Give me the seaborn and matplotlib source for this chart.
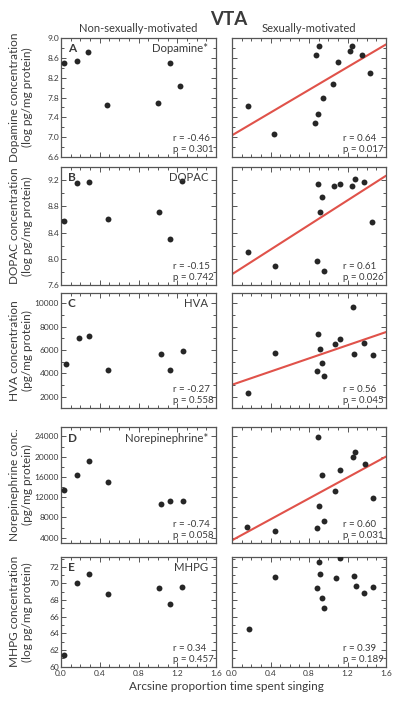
import numpy as np
import matplotlib.pyplot as plt
import matplotlib.ticker as mticker
import seaborn as sns

sns.set_theme(style="ticks")
plt.rcParams["font.family"] = ["Lato", "DejaVu Sans"]

TXT = "#3a3a3a"
EDGE = "#555555"
DOT = "#262626"
FIT = "#e0524a"

# ── data: x = arcsine proportion time spent singing ──────────────────────────
# non-sexually-motivated (left column)
da_non_x = [0.03, 0.16, 0.28, 0.47, 1.00, 1.12, 1.23]
da_non_y = [8.49, 8.53, 8.72, 7.65, 7.69, 8.49, 8.03]
dopac_non_x = [0.03, 0.17, 0.29, 0.48, 1.01, 1.12, 1.25]
dopac_non_y = [8.58, 9.15, 9.17, 8.60, 8.72, 8.30, 9.18]
hva_non_x = [0.05, 0.19, 0.29, 0.48, 1.03, 1.13, 1.26]
hva_non_y = [4820, 7030, 7180, 4300, 5630, 4300, 5880]
ne_non_x = [0.03, 0.17, 0.29, 0.48, 1.03, 1.13, 1.26]
ne_non_y = [13380, 16380, 19170, 15010, 10710, 11290, 11290]
mhpg_non_x = [0.03, 0.17, 0.29, 0.48, 1.01, 1.12, 1.25]
mhpg_non_y = [61.4, 70.1, 71.1, 68.7, 69.5, 67.5, 69.6]

# sexually-motivated (right column)
da_sex_x = [0.17, 0.44, 0.86, 0.89, 0.87, 0.90, 0.95, 1.05, 1.10, 1.23, 1.25, 1.35, 1.43]
da_sex_y = [7.62, 7.07, 7.29, 7.46, 8.65, 8.83, 7.79, 8.07, 8.51, 8.73, 8.83, 8.65, 8.30]
dopac_sex_x = [0.17, 0.45, 0.88, 0.96, 0.91, 0.93, 0.89, 1.06, 1.12, 1.25, 1.28, 1.37, 1.45]
dopac_sex_y = [8.10, 7.89, 7.97, 7.82, 8.71, 8.94, 9.14, 9.11, 9.14, 9.11, 9.21, 9.17, 8.56]
hva_sex_x = [0.17, 0.45, 0.89, 0.91, 0.93, 0.88, 0.96, 1.07, 1.12, 1.26, 1.37, 1.27, 1.47]
hva_sex_y = [2350, 5740, 7330, 6120, 4850, 4180, 3790, 6510, 6920, 9680, 6570, 5690, 5540]
ne_sex_x = [0.16, 0.45, 0.88, 0.96, 0.90, 1.07, 0.93, 1.12, 0.89, 1.26, 1.28, 1.38, 1.46]
ne_sex_y = [6150, 5290, 5960, 7250, 10320, 13310, 16320, 17410, 23860, 19950, 20870, 18470, 11880]
mhpg_sex_x = [0.18, 0.45, 0.90, 0.91, 0.88, 0.93, 0.96, 1.08, 1.12, 1.27, 1.29, 1.37, 1.46]
mhpg_sex_y = [64.5, 70.8, 72.6, 71.2, 69.4, 68.3, 67.1, 70.6, 73.1, 70.9, 69.7, 68.9, 69.6]

letters = ["A", "B", "C", "D", "E"]
compounds = ["Dopamine*", "DOPAC", "HVA", "Norepinephrine*", "MHPG"]
ylabels = ["Dopamine concentration\n(log pg/mg protein)",
           "DOPAC concentration\n(log pg/mg protein)",
           "HVA concentration\n(pg/mg protein)",
           "Norepinephrine conc.\n(pg/mg protein)",
           "MHPG concentration\n(log pg/mg protein)"]
r_non = ["-0.46", "-0.15", "-0.27", "-0.74", "0.34"]
p_non = ["0.301", "0.742", "0.558", "0.058", "0.457"]
r_sex = ["0.64", "0.61", "0.56", "0.60", "0.39"]
p_sex = ["0.017", "0.026", "0.045", "0.031", "0.189"]
fit_sex = [True, True, True, True, False]

non_data = [(da_non_x, da_non_y), (dopac_non_x, dopac_non_y), (hva_non_x, hva_non_y),
            (ne_non_x, ne_non_y), (mhpg_non_x, mhpg_non_y)]
sex_data = [(da_sex_x, da_sex_y), (dopac_sex_x, dopac_sex_y), (hva_sex_x, hva_sex_y),
            (ne_sex_x, ne_sex_y), (mhpg_sex_x, mhpg_sex_y)]

ylims = [(6.6, 9.0), (7.6, 9.4), (1000, 10900), (3000, 25800), (60, 73.2)]
ymajor = [0.4, 0.4, 2000, 4000, 2]
yminor = [0.2, 0.2, 1000, 2000, 1]
yfmt = ["%.1f", "%.1f", "%d", "%d", "%d"]
yticks_lo = [6.6, 7.6, 2000, 4000, 60]

# panel rows: (bottom, height) in figure fraction
rows = [(0.777, 0.169), (0.595, 0.168), (0.420, 0.164), (0.229, 0.164), (0.053, 0.156)]

fig = plt.figure(figsize=(4.0, 7.04), dpi=100)


def style_axis(ax, i, show_ylab, show_xlab):
    ax.set_xlim(0, 1.6)
    ax.set_ylim(*ylims[i])
    ax.xaxis.set_major_locator(mticker.MultipleLocator(0.4))
    ax.xaxis.set_minor_locator(mticker.MultipleLocator(0.1))
    ax.xaxis.set_major_formatter(mticker.FormatStrFormatter("%.1f"))
    ticks = np.arange(yticks_lo[i], ylims[i][1] + 1e-9, ymajor[i])
    ax.set_yticks(ticks)
    ax.yaxis.set_minor_locator(mticker.MultipleLocator(yminor[i]))
    ax.yaxis.set_major_formatter(mticker.FormatStrFormatter(yfmt[i]))
    ax.set_ylim(*ylims[i])
    ax.tick_params(which="both", direction="in", top=True, right=True,
                   color=EDGE, width=0.7, labelsize=6, labelcolor=TXT, pad=1.5)
    ax.tick_params(which="major", length=3.5)
    ax.tick_params(which="minor", length=2)
    ax.tick_params(axis="y", labelleft=show_ylab)
    ax.tick_params(axis="x", labelbottom=show_xlab, pad=2.5)
    for s in ax.spines.values():
        s.set_color(EDGE)
        s.set_linewidth(0.9)
    ax.set_xlabel("")
    ax.set_ylabel("")


for i in range(5):
    bottom, height = rows[i]
    ax_l = fig.add_axes([0.1525, bottom, 0.3875, height])
    ax_r = fig.add_axes([0.58, bottom, 0.385, height])

    # left column: non-sexually-motivated
    x, y = non_data[i]
    ax_l.set_xlim(0, 1.6)
    sns.scatterplot(x=x, y=y, ax=ax_l, color=DOT, s=18, linewidth=0, zorder=3)
    style_axis(ax_l, i, True, i == 4)
    ax_l.set_ylabel(ylabels[i], fontsize=8.5, color=TXT, linespacing=1.2)
    ax_l.yaxis.set_label_coords(-0.18, 0.5)
    ax_l.text(0.045, 0.955, letters[i], transform=ax_l.transAxes, ha="left", va="top",
              fontsize=8.5, fontweight="bold", color=TXT)
    ax_l.text(0.95, 0.955, compounds[i], transform=ax_l.transAxes, ha="right", va="top",
              fontsize=8.2, color=TXT)
    ax_l.text(0.985, 0.025, f"r = {r_non[i]}\np = {p_non[i]}", transform=ax_l.transAxes,
              ha="right", va="bottom", multialignment="left", fontsize=7, color=TXT,
              linespacing=1.3)

    # right column: sexually-motivated
    x, y = sex_data[i]
    ax_r.set_xlim(0, 1.6)
    sns.scatterplot(x=x, y=y, ax=ax_r, color=DOT, s=18, linewidth=0, zorder=3)
    if fit_sex[i]:
        sns.regplot(x=x, y=y, ax=ax_r, scatter=False, ci=None, truncate=False,
                    line_kws=dict(color=FIT, linewidth=1.5, zorder=2))
    style_axis(ax_r, i, False, i == 4)
    ax_r.text(0.985, 0.025, f"r = {r_sex[i]}\np = {p_sex[i]}", transform=ax_r.transAxes,
              ha="right", va="bottom", multialignment="left", fontsize=7, color=TXT,
              linespacing=1.3)

fig.text(0.5725, 0.972, "VTA", ha="center", va="center", fontsize=13.5,
         fontweight="bold", color=TXT)
fig.text(0.1525 + 0.3875 / 2, 0.960, "Non-sexually-motivated", ha="center", va="center",
         fontsize=8, color=TXT)
fig.text(0.58 + 0.385 / 2, 0.960, "Sexually-motivated", ha="center", va="center",
         fontsize=8, color=TXT)
fig.text(0.566, 0.025, "Arcsine proportion time spent singing", ha="center", va="center",
         fontsize=8.5, color=TXT)

fig.savefig("out.png", dpi=100, facecolor="white")
plt.close(fig)
